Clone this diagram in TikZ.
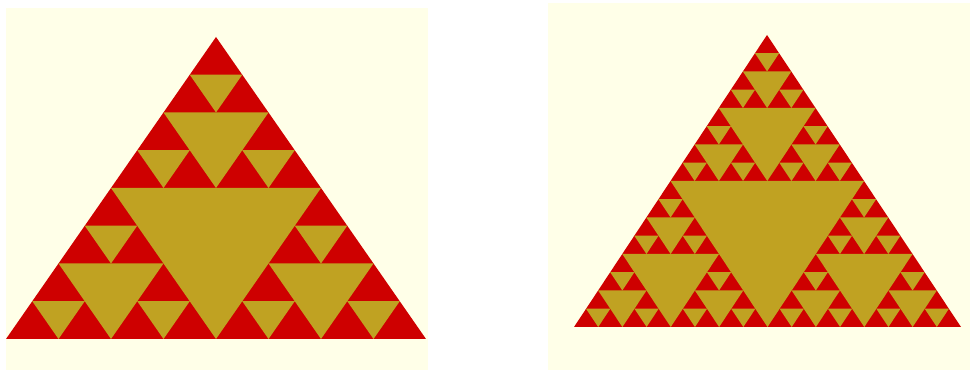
\documentclass[tikz,border=0pt]{standalone}
\usepackage{tikz}
\usetikzlibrary{calc}
\definecolor{cream}{RGB}{255,255,232}
\definecolor{gasket}{RGB}{206,0,0}
\definecolor{olive}{RGB}{192,162,34}
\tikzset{
  panel/.style  = {fill=cream},
  solid/.style  = {fill=gasket},
  hole/.style   = {fill=olive},
}
% cut the middle out of a triangle, #1 times over
\newcommand\gasket[7]{%
  \ifnum#1>0
    \begingroup
    \pgfmathsetmacro\mabx{(#2+#4)/2}\pgfmathsetmacro\maby{(#3+#5)/2}%
    \pgfmathsetmacro\mbcx{(#4+#6)/2}\pgfmathsetmacro\mbcy{(#5+#7)/2}%
    \pgfmathsetmacro\mcax{(#6+#2)/2}\pgfmathsetmacro\mcay{(#7+#3)/2}%
    \fill[hole] (\mabx,\maby) -- (\mbcx,\mbcy) -- (\mcax,\mcay) -- cycle;
    \pgfmathtruncatemacro\dnext{#1-1}%
    \edef\gnext{\noexpand\gasket{\dnext}{#2}{#3}{\mabx}{\maby}{\mcax}{\mcay}%
      \noexpand\gasket{\dnext}{\mabx}{\maby}{#4}{#5}{\mbcx}{\mbcy}%
      \noexpand\gasket{\dnext}{\mcax}{\mcay}{\mbcx}{\mbcy}{#6}{#7}}%
    \gnext
    \endgroup
  \fi}
\begin{document}
\begin{tikzpicture}[x=0.1mm,y=0.1mm]
  \useasboundingbox[fill=white] (0,0) rectangle (970,370);
  % left panel, three steps
  \fill[panel] (6,0) rectangle (428,362);
  \fill[solid] (6,31) -- (426,31) -- (216,333) -- cycle;
  \gasket{3}{6}{31}{426}{31}{216}{333}
  % right panel, four steps
  \fill[panel] (548,0) rectangle (970,367);
  \fill[solid] (574,43) -- (961,43) -- (767,335) -- cycle;
  \gasket{4}{574}{43}{961}{43}{767}{335}
\end{tikzpicture}
\end{document}
